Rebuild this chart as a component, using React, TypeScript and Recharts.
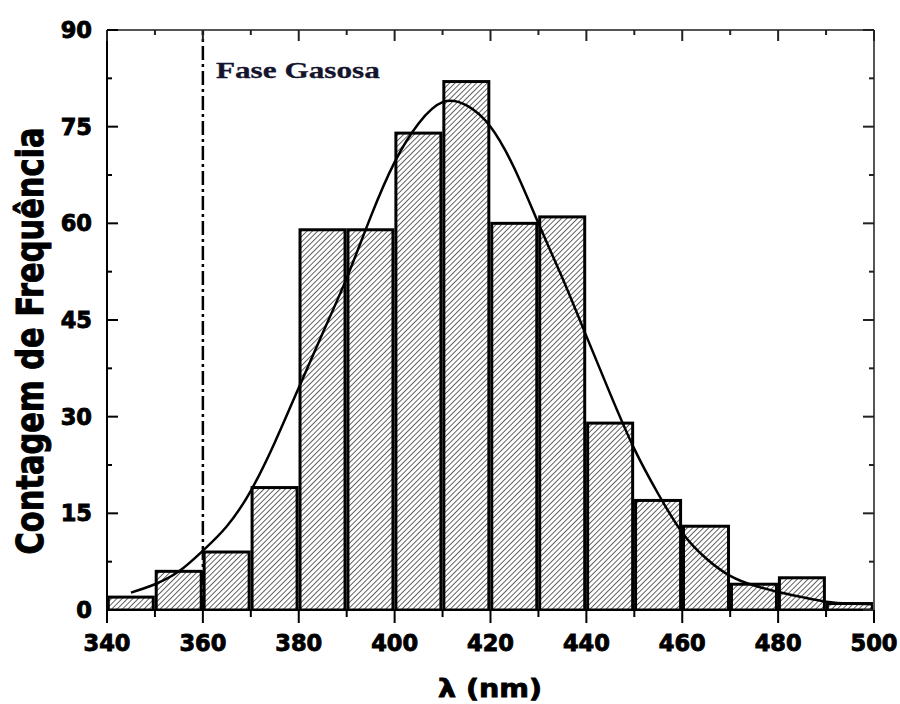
import React from "react";
import {
  ComposedChart,
  Bar,
  Line,
  XAxis,
  YAxis,
  ReferenceLine,
} from "recharts";

// Histogram bins (centre of each 10 nm bin) and counts
const binCentres = [345, 355, 365, 375, 385, 395, 405, 415, 425, 435, 445, 455, 465, 475, 485, 495];
const counts = [2, 6, 9, 19, 59, 59, 74, 82, 60, 61, 29, 17, 13, 4, 5, 1];

// Fitted curve
const fitX = [345, 350, 355, 360, 365, 370, 375, 380, 385, 390, 395, 400, 405, 410, 415, 420, 425, 430, 435, 440, 445, 450, 455, 460, 465, 470, 475, 480, 485, 490, 495, 500];
const fitY = [2.7, 4, 6, 9.2, 13, 18.5, 26, 34.5, 43, 51.5, 61, 69.5, 75.5, 78.8, 78.3, 75, 68.5, 60, 51.5, 42.5, 33.5, 25, 18, 12, 8, 5.3, 3.8, 2.8, 2, 1.3, 1, 0.9];

const xTicks = [340, 350, 360, 370, 380, 390, 400, 410, 420, 430, 440, 450, 460, 470, 480, 490, 500];
const xMajor = [340, 360, 380, 400, 420, 440, 460, 480, 500];
const yTicks = [0, 7.5, 15, 22.5, 30, 37.5, 45, 52.5, 60, 67.5, 75, 82.5, 90];
const yMajor = [0, 15, 30, 45, 60, 75, 90];

const gasLine = 360;
const gasLabel = "Fase Gasosa";
const xTitle = "λ (nm)";
const yTitle = "Contagem de Frequência";

const barData = binCentres.map((x, i) => ({ x, count: counts[i] }));
const fitData = fitX.map((x, i) => ({ x, fit: fitY[i] }));

const TICK_FONT = "'DejaVu Sans', sans-serif";

const HatchBar = (props: any) => {
  const { x, y, width, height } = props;
  if (height == null || isNaN(height)) return null;
  const cx = x + width / 2;
  const w = 45;
  return (
    <rect
      x={cx - w / 2}
      y={y}
      width={w}
      height={height}
      fill="url(#hatch)"
      stroke="#000"
      strokeWidth={3}
    />
  );
};

const BottomTick = (props: any) => {
  const { x, y, payload } = props;
  const major = xMajor.includes(payload.value);
  return (
    <g>
      <line x1={x} y1={y} x2={x} y2={y + (major ? 13 : 7)} stroke="#000" strokeWidth={2} />
      {major && (
        <text
          x={x}
          y={y + 41}
          textAnchor="middle"
          fontFamily={TICK_FONT}
          fontWeight="bold"
          fontSize={22.5}
          fill="#000"
          stroke="#000"
          strokeWidth={0.9}
        >
          {payload.value}
        </text>
      )}
    </g>
  );
};

const TopTick = (props: any) => {
  const { x, y, payload } = props;
  const major = xMajor.includes(payload.value);
  return <line x1={x} y1={y} x2={x} y2={y + (major ? 11 : 5)} stroke="#222" strokeWidth={2} />;
};

const LeftTick = (props: any) => {
  const { x, y, payload } = props;
  const major = yMajor.includes(payload.value);
  return (
    <g>
      <line x1={x} y1={y} x2={x + (major ? 11 : 5)} y2={y} stroke="#000" strokeWidth={2} />
      {major && (
        <text
          x={x - 15}
          y={y + 8}
          textAnchor="end"
          fontFamily={TICK_FONT}
          fontWeight="bold"
          fontSize={22.5}
          fill="#000"
          stroke="#000"
          strokeWidth={0.9}
        >
          {payload.value}
        </text>
      )}
    </g>
  );
};

const RightTick = (props: any) => {
  const { x, y, payload } = props;
  const major = yMajor.includes(payload.value);
  return <line x1={x} y1={y} x2={x - (major ? 11 : 5)} y2={y} stroke="#222" strokeWidth={2} />;
};

const GasLabel = (props: any) => {
  const vb = props.viewBox || {};
  return (
    <text
      x={vb.x + 13}
      y={vb.y + 48}
      fontFamily="'Liberation Serif', 'Times New Roman', serif"
      fontWeight="bold"
      fontSize={24}
      fill="#14142e"
      stroke="#14142e"
      strokeWidth={0.3}
      textLength={164}
      lengthAdjust="spacingAndGlyphs"
    >
      {gasLabel}
    </text>
  );
};

export default function App() {
  return (
    <div style={{ position: "absolute", left: 0, top: 0, width: 900, height: 704, background: "#fff" }}>
      <svg width={0} height={0} style={{ position: "absolute" }}>
        <defs>
          <pattern
            id="hatch"
            patternUnits="userSpaceOnUse"
            width={3.8}
            height={3.8}
            patternTransform="rotate(45)"
          >
            <rect width={3.8} height={3.8} fill="#fff" />
            <line x1={0} y1={0} x2={0} y2={3.8} stroke="#111" strokeWidth={1.3} />
          </pattern>
        </defs>
      </svg>
      <ComposedChart
        width={900}
        height={704}
        data={barData}
        margin={{ top: 29, right: 25, bottom: 0, left: 0 }}
      >
        <XAxis
          dataKey="x"
          type="number"
          domain={[340, 500]}
          ticks={xTicks}
          interval={0}
          allowDataOverflow
          height={94}
          tickSize={0}
          tickMargin={0}
          tickLine={false}
          axisLine={{ stroke: "#000", strokeWidth: 2 }}
          tick={<BottomTick />}
        />
        <XAxis
          xAxisId="top"
          orientation="top"
          dataKey="x"
          type="number"
          domain={[340, 500]}
          ticks={xTicks}
          interval={0}
          allowDataOverflow
          height={1}
          tickSize={0}
          tickMargin={0}
          tickLine={false}
          axisLine={{ stroke: "#555", strokeWidth: 2 }}
          tick={<TopTick />}
        />
        <YAxis
          type="number"
          domain={[0, 90]}
          ticks={yTicks}
          interval={0}
          allowDataOverflow
          width={107}
          tickSize={0}
          tickMargin={0}
          tickLine={false}
          axisLine={{ stroke: "#000", strokeWidth: 2 }}
          tick={<LeftTick />}
        />
        <YAxis
          yAxisId="right"
          orientation="right"
          type="number"
          domain={[0, 90]}
          ticks={yTicks}
          interval={0}
          allowDataOverflow
          width={1}
          tickSize={0}
          tickMargin={0}
          tickLine={false}
          axisLine={{ stroke: "#555", strokeWidth: 2 }}
          tick={<RightTick />}
        />
        <Bar dataKey="count" barSize={30} shape={<HatchBar />} isAnimationActive={false} />
        <Line
          data={fitData}
          dataKey="fit"
          type="natural"
          stroke="#000"
          strokeWidth={2.5}
          dot={false}
          activeDot={false}
          isAnimationActive={false}
        />
        <ReferenceLine
          x={gasLine}
          stroke="#000"
          strokeWidth={2.5}
          strokeDasharray="14 4 3 4"
          label={<GasLabel />}
        />
      </ComposedChart>
      <svg
        width={900}
        height={704}
        style={{ position: "absolute", left: 0, top: 0, pointerEvents: "none" }}
      >
        <text
          transform="translate(43,341) rotate(-90) scale(1,1.25)"
          textAnchor="middle"
          fontFamily={TICK_FONT}
          fontWeight="bold"
          fontSize={30}
          fill="#000"
          stroke="#000"
          strokeWidth={0.8}
          textLength={427}
          lengthAdjust="spacingAndGlyphs"
        >
          {yTitle}
        </text>
        <text
          x={490}
          y={697}
          textAnchor="middle"
          fontFamily={TICK_FONT}
          fontWeight="bold"
          fontSize={24}
          fill="#000"
          stroke="#000"
          strokeWidth={0.8}
          textLength={104}
          lengthAdjust="spacingAndGlyphs"
        >
          {xTitle}
        </text>
      </svg>
    </div>
  );
}
